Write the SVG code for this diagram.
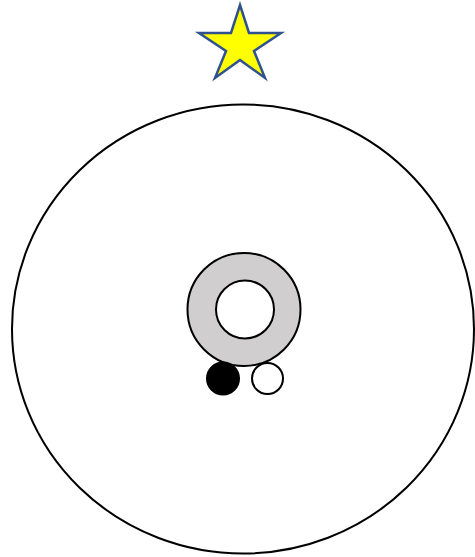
<svg xmlns="http://www.w3.org/2000/svg" width="475" height="557" viewBox="0 0 475 557">
<style>
.ln{stroke:#000;stroke-width:2;}
</style>
<rect width="475" height="557" fill="#fff"/>
<g id="star">
<polygon points="240,5 249,33 281,33 254,51 265,78 240,60 215,78 226,51 199,33 231,33" fill="#FFFF00" stroke="#2F528F" stroke-width="2.5" stroke-linejoin="miter"/>
</g>
<g id="outer">
<ellipse class="ln" cx="243" cy="329" rx="231" ry="224.5" fill="#fff"/>
</g>
<g id="ring">
<circle class="ln" cx="244" cy="309.5" r="56.5" fill="#D0CECE"/>
<circle class="ln" cx="245" cy="309.5" r="29" fill="#fff"/>
</g>
<g id="black-dot">
<circle class="ln" cx="223" cy="378.5" r="16" fill="#000"/>
</g>
<g id="white-dot">
<circle class="ln" cx="267.5" cy="378.5" r="15.5" fill="#fff"/>
</g>
<g id="connectors"/>
</svg>
